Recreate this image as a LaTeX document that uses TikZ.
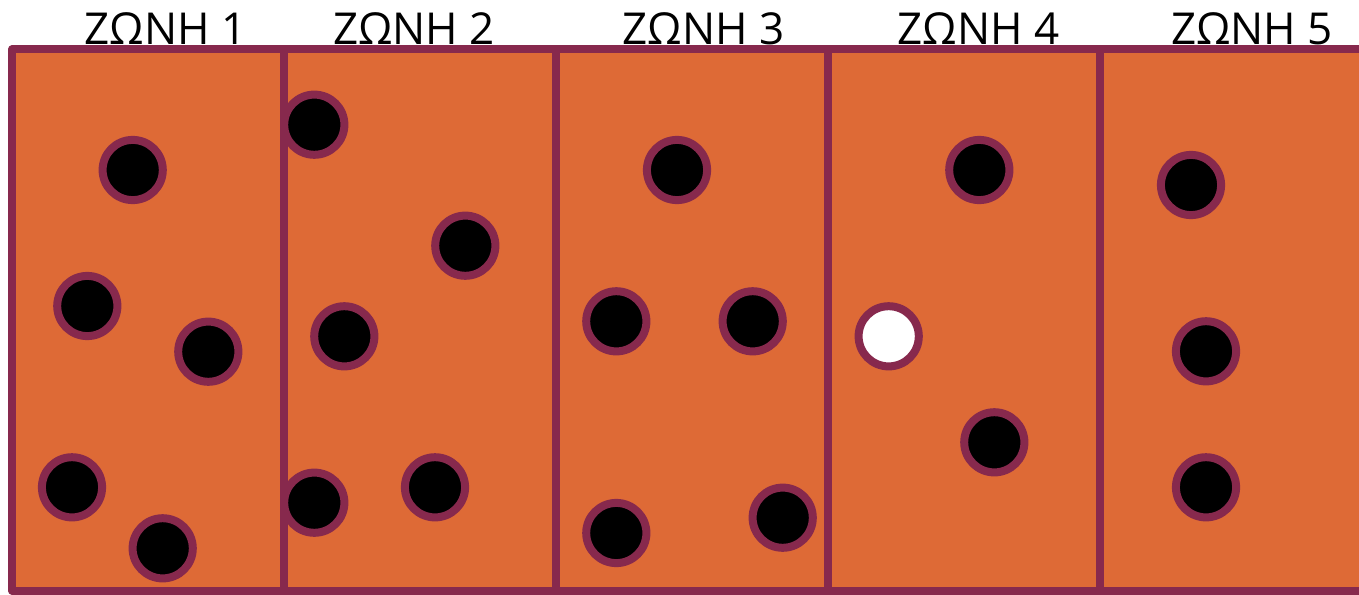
\documentclass[tikz,border=0pt]{standalone}
\usepackage{fontspec}
\setmainfont{Open Sans}
\definecolor{brick}{HTML}{DE6A36}
\definecolor{plum}{HTML}{87294D}
\begin{document}
\begin{tikzpicture}[x=1pt,y=-1pt,
  dot/.style={circle,draw=plum,line width=8pt,fill=black,minimum size=60.2pt,inner sep=0pt},
  hole/.style={dot,fill=white},
  zonelabel/.style={anchor=base,inner sep=0pt,font=\fontsize{44}{48}\selectfont},
  wall/.style={draw=plum,line width=8pt}]
\useasboundingbox (0,0) rectangle (1359,594);
\clip (0,0) rectangle (1359,594);
% body
\path[fill=brick,wall,line join=round] (12,49.5) rectangle (1380,590.5);
\coordinate (d1t) at (283.5,49.5); \coordinate (d1b) at (283.5,590.5);
\coordinate (d2t) at (556,49.5);   \coordinate (d2b) at (556,590.5);
\coordinate (d3t) at (828,49.5);   \coordinate (d3b) at (828,590.5);
\coordinate (d4t) at (1100.3,49.5);\coordinate (d4b) at (1100.3,590.5);
\draw[wall] (d1t) -- (d1b);
\draw[wall] (d2t) -- (d2b);
\draw[wall] (d3t) -- (d3b);
\draw[wall] (d4t) -- (d4b);
% labels
\node[zonelabel] (z1) at (165.5,44.3) {ΖΩΝΗ 1};
\node[zonelabel] (z2) at (414,44.3) {ΖΩΝΗ 2};
\node[zonelabel] (z3) at (703.5,44.3) {ΖΩΝΗ 3};
\node[zonelabel] (z4) at (978.5,44.3) {ΖΩΝΗ 4};
\node[zonelabel] (z5) at (1252,44.3) {ΖΩΝΗ 5};
% zone 1
\node[dot] (a1) at (132.7,170) {};
\node[dot] (a2) at (87.3,306) {};
\node[dot] (a3) at (208.3,351.7) {};
\node[dot] (a4) at (72,487.3) {};
\node[dot] (a5) at (162.7,548.3) {};
% zone 2
\node[dot] (b1) at (314.3,124.7) {};
\node[dot] (b2) at (465.3,245.7) {};
\node[dot] (b3) at (344.3,336.3) {};
\node[dot] (b4) at (314.3,502.7) {};
\node[dot] (b5) at (435,487.3) {};
% zone 3
\node[dot] (c1) at (677,170) {};
\node[dot] (c2) at (616.3,321.3) {};
\node[dot] (c3) at (752.7,321.3) {};
\node[dot] (c4) at (616.3,533) {};
\node[dot] (c5) at (782.7,517.7) {};
% zone 4
\node[dot] (e1) at (979.3,170) {};
\node[hole] (e2) at (888.7,336.3) {};
\node[dot] (e3) at (994.3,442.3) {};
% zone 5
\node[dot] (f1) at (1191,185) {};
\node[dot] (f2) at (1206,351.3) {};
\node[dot] (f3) at (1206,487.3) {};
\end{tikzpicture}
\end{document}
